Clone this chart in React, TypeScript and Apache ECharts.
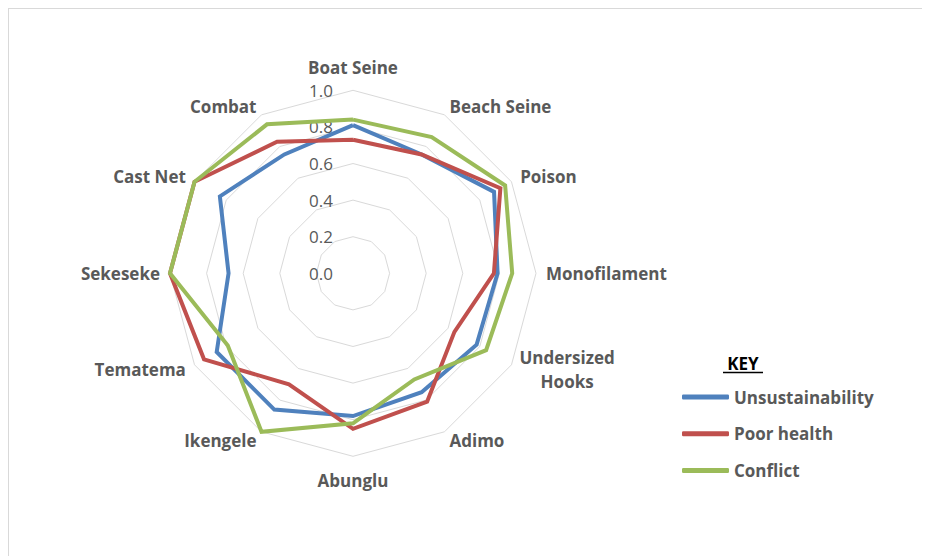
import React, { useEffect, useRef } from "react";
import * as echarts from "echarts";

// Categories in clockwise order starting at the top
const categories = [
  "Boat Seine",
  "Beach Seine",
  "Poison",
  "Monofilament",
  "Undersized Hooks",
  "Adimo",
  "Abunglu",
  "Ikengele",
  "Tematema",
  "Sekeseke",
  "Cast Net",
  "Combat",
];
const unsustainability = [0.81, 0.75, 0.89, 0.79, 0.78, 0.75, 0.78, 0.86, 0.86, 0.68, 0.84, 0.75];
const poorHealth = [0.73, 0.75, 0.93, 0.77, 0.64, 0.81, 0.85, 0.7, 0.94, 1.0, 1.0, 0.83];
const conflict = [0.84, 0.86, 0.96, 0.87, 0.84, 0.67, 0.82, 1.0, 0.79, 1.0, 1.0, 0.94];
const seriesNames = ["Unsustainability", "Poor health", "Conflict"];
const seriesColors = ["#4F81BD", "#C0504D", "#9BBB59"];
const axisMin = 0;
const axisMax = 1;
const axisSplits = 5;

const FONT = "'Open Sans', 'Liberation Sans', sans-serif";

export default function App() {
  const ref = useRef<HTMLDivElement>(null);
  useEffect(() => {
    if (!ref.current) return;
    const chart = echarts.init(ref.current, undefined, { renderer: "svg" });
    // ECharts lays radar indicators counter-clockwise; reorder to get clockwise
    const order = categories.map((_, i) => (i === 0 ? 0 : categories.length - i));
    const indicator = order.map((idx, k) => {
      const ind: any = { name: categories[idx], min: axisMin, max: axisMax };
      if (k === 0) {
        ind.axisLabel = {
          show: true,
          color: "#595959",
          fontFamily: FONT,
          fontSize: 17,
          margin: 20,
          formatter: (v: number) => v.toFixed(1),
        };
      }
      return ind;
    });
    const all = [unsustainability, poorHealth, conflict];
    const baseText = {
      color: "#595959",
      fontFamily: FONT,
      fontWeight: "bold",
      fontSize: 17,
    };
    chart.setOption({
      animation: false,
      legend: {
        orient: "vertical",
        left: 668,
        top: 373,
        itemWidth: 47,
        itemHeight: 5,
        itemGap: 16.7,
        icon: "roundRect",
        data: seriesNames,
        textStyle: { ...baseText, lineHeight: 20 },
      },
      graphic: [
        {
          type: "text",
          x: 734,
          y: 354,
          style: {
            text: "KEY",
            fill: "#000000",
            font: `bold 17px ${FONT}`,
            align: "center",
            verticalAlign: "middle",
          },
        },
        {
          type: "line",
          shape: { x1: 714, y1: 363.5, x2: 754, y2: 363.5 },
          style: { stroke: "#000000", lineWidth: 1.5 },
        },
      ],
      radar: {
        center: [344, 264.3],
        radius: 183,
        startAngle: 90,
        splitNumber: axisSplits,
        shape: "polygon",
        nameGap: 10,
        axisName: {
          ...baseText,
          formatter: (name: string) => {
            if (name === "Undersized Hooks") return "{c|Undersized}\n{c|Hooks}";
            if (name === "Boat Seine") return "{t|" + name + "}";
            if (name === "Abunglu") return "{b|" + name + "}";
            return name;
          },
          rich: {
            c: { ...baseText, width: 94, align: "center", lineHeight: 24 },
            t: { ...baseText, padding: [0, 0, 4, 0] },
            b: { ...baseText, padding: [6, 0, 0, 0] },
          },
        },
        indicator,
        axisLine: { show: false },
        axisTick: { show: false },
        axisLabel: { show: false },
        splitArea: { show: false },
        splitLine: { lineStyle: { color: "#D9D9D9", width: 1 } },
      },
      series: [
        {
          type: "radar",
          symbol: "none",
          data: all.map((arr, s) => ({
            name: seriesNames[s],
            value: order.map((idx) => arr[idx]),
            lineStyle: { color: seriesColors[s], width: 4, join: "miter" },
            itemStyle: { color: seriesColors[s] },
          })),
        },
      ],
    });
    return () => chart.dispose();
  }, []);
  return (
    <div
      ref={ref}
      style={{
        width: 922,
        height: 548,
        borderTop: "1.5px solid #D9D9D9",
        borderLeft: "1.5px solid #D9D9D9",
        boxSizing: "border-box",
        overflow: "hidden",
      }}
    />
  );
}
